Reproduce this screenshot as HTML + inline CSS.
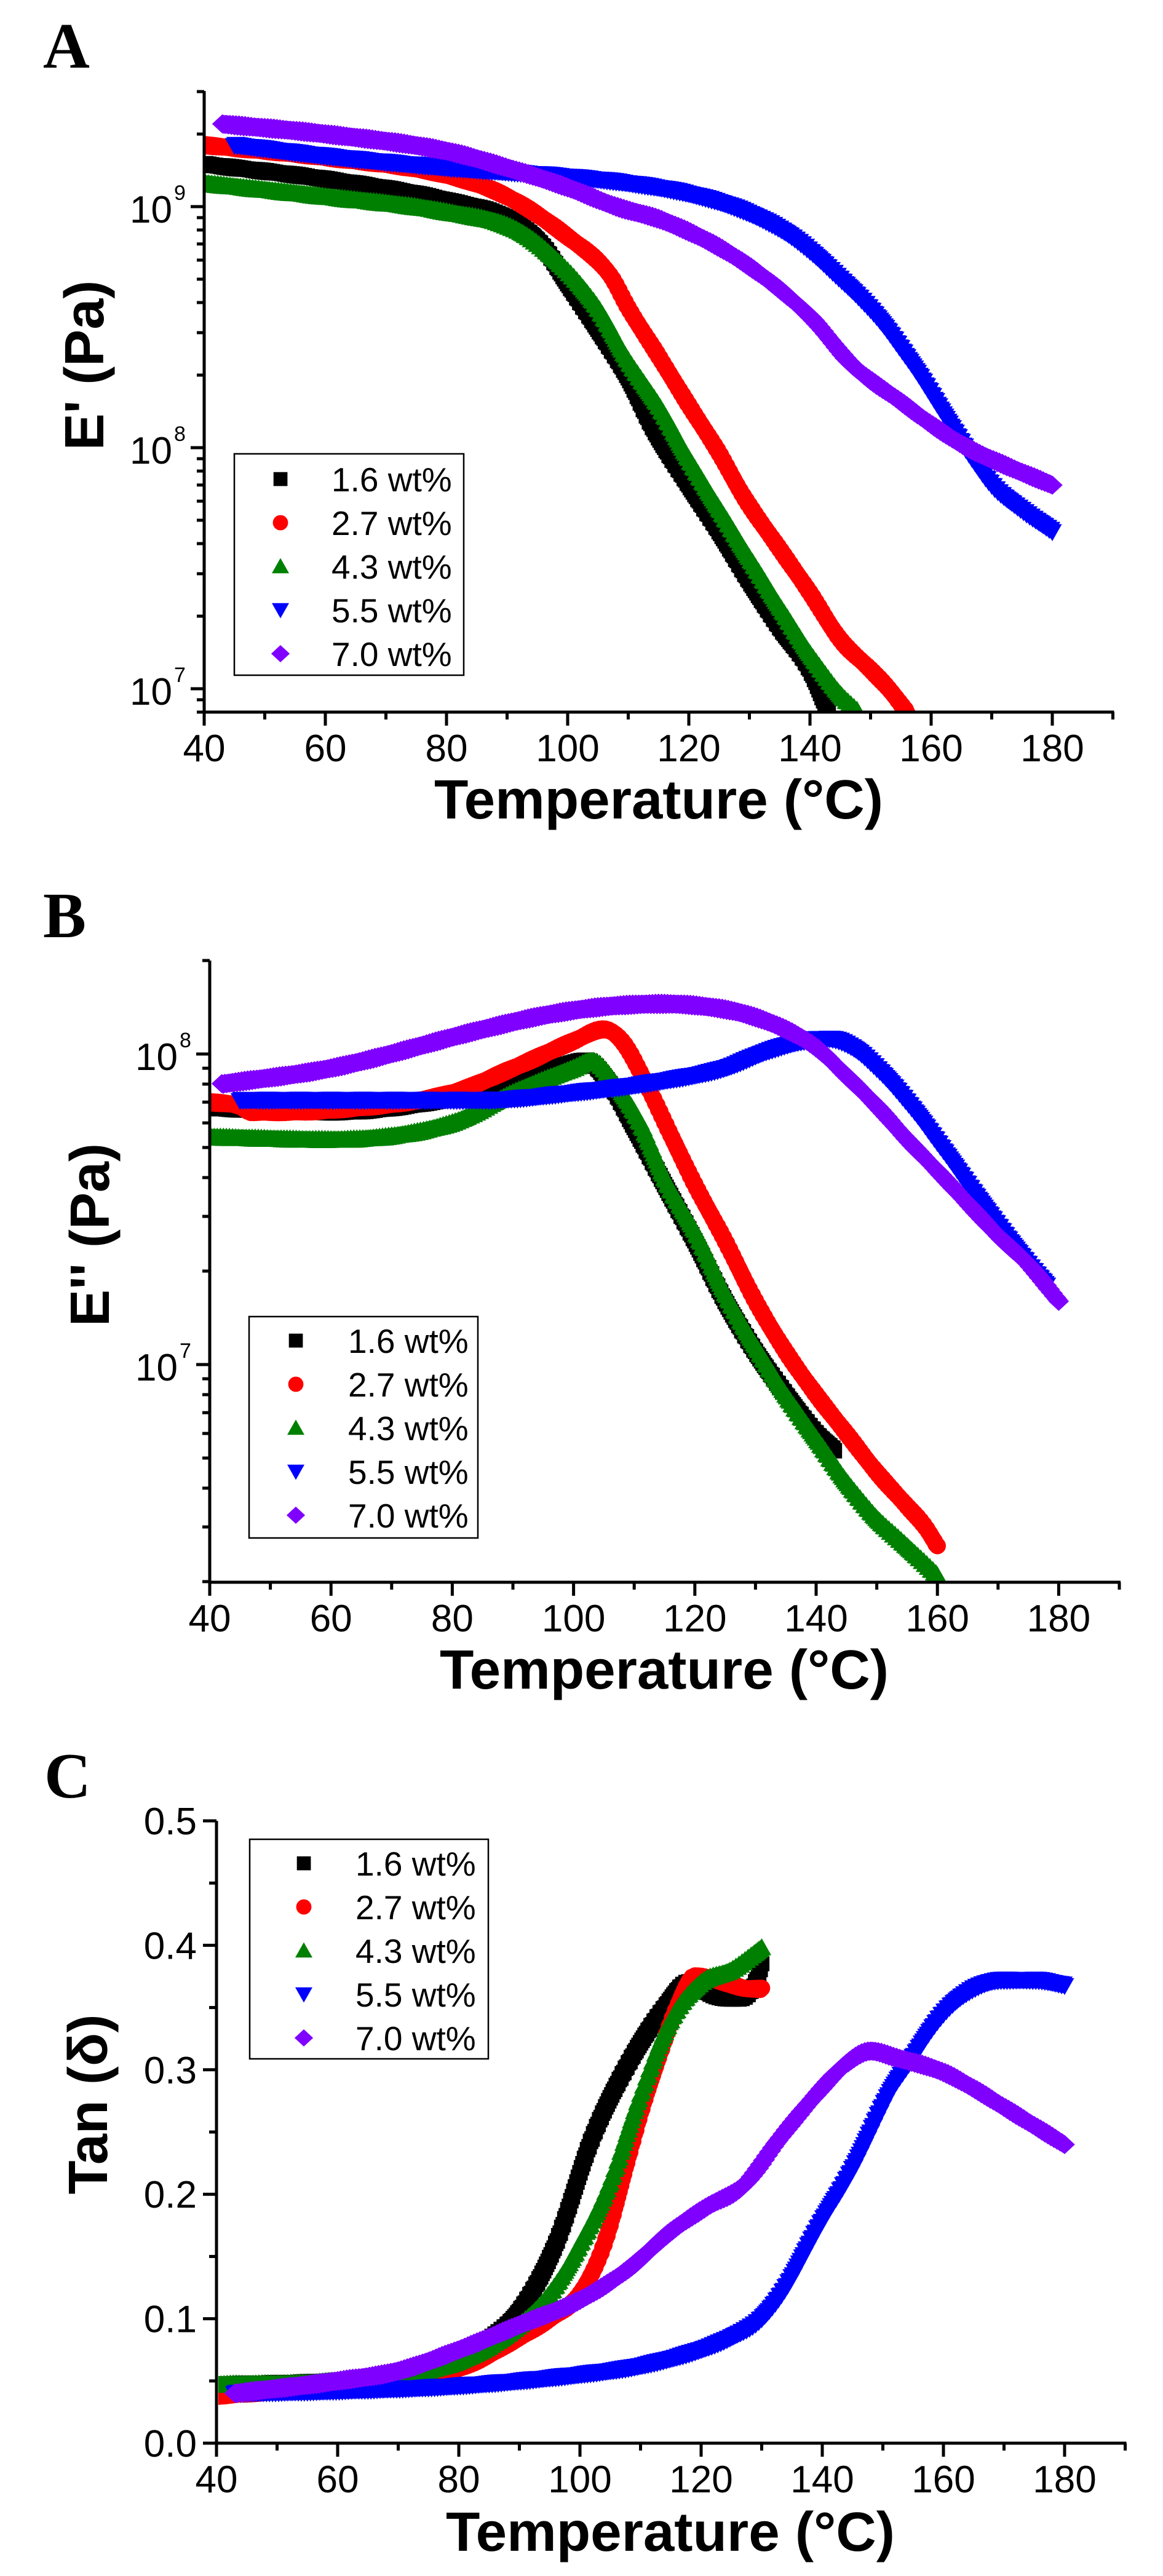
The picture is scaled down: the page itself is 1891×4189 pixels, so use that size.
<!DOCTYPE html>
<html><head><meta charset="utf-8"><style>
html,body{margin:0;padding:0;background:#fff;}
svg{display:block;}
text{font-family:"Liberation Sans",Arial,sans-serif;fill:#000;}
.tk{font-size:62px;}
.ttl{font-size:90px;font-weight:bold;}
.lg{font-size:55px;}
.let{font-family:"Liberation Serif",serif;font-size:105px;font-weight:bold;}
</style></head><body>
<svg id="s" xmlns="http://www.w3.org/2000/svg" width="1891" height="4189" viewBox="0 0 1891 4189">
<rect width="1891" height="4189" fill="#fff"/>
<defs>
<clipPath id="cA"><rect x="334" y="140" width="1480" height="1016"/></clipPath>
<clipPath id="cB"><rect x="343" y="1554" width="1480" height="1017"/></clipPath>
<clipPath id="cC"><rect x="355" y="2950" width="1480" height="1021"/></clipPath>
</defs>
<g id="data"></g>
<g id="axes"></g>
</svg>
<script>
var C=['#000000','#ff0000','#008000','#0000ff','#8000ff'];
function shape(k,x,y,s,c){
 if(k==0){var a=s*0.42;return '<rect x="'+(x-a).toFixed(1)+'" y="'+(y-a).toFixed(1)+'" width="'+(2*a).toFixed(1)+'" height="'+(2*a).toFixed(1)+'" fill="'+c+'"/>';}
 if(k==1)return '<circle cx="'+x.toFixed(1)+'" cy="'+y.toFixed(1)+'" r="'+(s*0.46).toFixed(1)+'" fill="'+c+'"/>';
 var p;
 if(k==2)p=[[x,y-s*0.5],[x-s*0.52,y+s*0.42],[x+s*0.52,y+s*0.42]];
 if(k==3)p=[[x,y+s*0.5],[x-s*0.52,y-s*0.42],[x+s*0.52,y-s*0.42]];
 if(k==4)p=[[x,y-s*0.52],[x+s*0.56,y],[x,y+s*0.52],[x-s*0.56,y]];
 return '<polygon points="'+p.map(function(q){return q[0].toFixed(1)+','+q[1].toFixed(1)}).join(' ')+'" fill="'+c+'"/>';
}
function slopes(d){
 var n=d.length,m=[];
 for(var i=0;i<n;i++){
  if(i==0)m.push((d[1][1]-d[0][1])/(d[1][0]-d[0][0]));
  else if(i==n-1)m.push((d[n-1][1]-d[n-2][1])/(d[n-1][0]-d[n-2][0]));
  else{var a=(d[i][1]-d[i-1][1])/(d[i][0]-d[i-1][0]),b=(d[i+1][1]-d[i][1])/(d[i+1][0]-d[i][0]);
   m.push(a*b<=0?0:(a+b)/2);}
 }
 return m;
}
function interp(d,m,T){
 for(var i=0;i<d.length-1;i++){if(T>=d[i][0]&&T<=d[i+1][0]){
  var h=d[i+1][0]-d[i][0],t=(T-d[i][0])/h,t2=t*t,t3=t2*t;
  return (2*t3-3*t2+1)*d[i][1]+(t3-2*t2+t)*h*m[i]+(-2*t3+3*t2)*d[i+1][1]+(t3-t2)*h*m[i+1];}}
 return d[d.length-1][1];
}
var out='';
function series(panel,clip,list,log){
 var g='<g clip-path="url(#'+clip+')">';
 list.forEach(function(d,k){
  var dd=d.map(function(p){return [p[0],log?Math.log10(p[1]):p[1]]});
  var m=slopes(dd);
  var t0=dd[0][0],t1=dd[dd.length-1][0];
  for(var T=t0;T<=t1+1e-6;T+=0.25){
   var v=interp(dd,m,Math.min(T,t1));
   var jit=Math.sin(T*37.1+k)*1.2;
   g+=shape(k,panel.x(T),panel.y(v)+jit,30,C[k]);
  }
 });
 return g+'</g>';
}
var A={x:function(T){return 332+(T-40)*9.85},y:function(l){return 336-392*(l-9)}};
var B={x:function(T){return 341+(T-40)*9.86},y:function(l){return 1714-505*(l-8)}};
var Cp={x:function(T){return 352+(T-40)*9.85},y:function(v){return 3973-v*2024}};

var dA=[
[[40,1.5e9],[60,1.3e9],[80,1.06e9],[91,8.7e8],[96,6.8e8],[100,4.8e8],[105,3.1e8],[110,1.95e8],[114,1.22e8],[120,7e7],[125,4.5e7],[130,2.8e7],[135,1.8e7],[140,1.2e7],[143,8e6]],
[[40,1.8e9],[60,1.6e9],[80,1.35e9],[90,1.1e9],[100,7.5e8],[107,5.2e8],[110,3.8e8],[115,2.4e8],[120,1.5e8],[125,9.5e7],[129,6.3e7],[135,3.8e7],[140,2.5e7],[145,1.6e7],[150,1.2e7],[153,1e7],[156,8e6]],
[[40,1.25e9],[60,1.1e9],[80,9.5e8],[92,7.9e8],[100,5.4e8],[105,3.8e8],[110,2.3e8],[115,1.5e8],[120,9e7],[125,5.6e7],[130,3.5e7],[135,2.2e7],[140,1.4e7],[145,9.5e6],[148,8e6]],
[[45,1.8e9],[60,1.62e9],[80,1.45e9],[100,1.33e9],[110,1.25e9],[120,1.13e9],[129,9.6e8],[137,7.5e8],[145,5e8],[151,3.5e8],[158,2e8],[164,1.15e8],[170,7e7],[175,5.5e7],[180,4.5e7]],
[[43,2.2e9],[60,2.0e9],[80,1.7e9],[90,1.45e9],[100,1.2e9],[108,1.0e9],[116,8.7e8],[128,6.1e8],[140,3.5e8],[147,2.2e8],[155,1.55e8],[160,1.25e8],[166,1e8],[172,8.5e7],[180,7e7]]
];
var dB=[
[[40,6.7e7],[60,6.5e7],[80,7.2e7],[90,8e7],[97,9e7],[102,9.5e7],[106,8e7],[110,5.8e7],[115,3.8e7],[120,2.5e7],[125,1.6e7],[130,1.1e7],[135,8e6],[140,6e6],[143,5.3e6]],
[[40,7e7],[45,6.8e7],[47,6.5e7],[60,6.6e7],[80,7.5e7],[90,9e7],[100,1.1e8],[105,1.2e8],[108,1.1e8],[112,8e7],[116,5.5e7],[120,3.8e7],[125,2.5e7],[130,1.6e7],[135,1.1e7],[140,8e6],[145,6e6],[150,4.5e6],[155,3.5e6],[158,3e6],[160,2.6e6]],
[[40,5.4e7],[60,5.3e7],[80,6e7],[90,7.5e7],[100,9e7],[103,9.5e7],[107,8e7],[111,6e7],[115,4e7],[120,2.7e7],[125,1.7e7],[130,1.15e7],[135,8e6],[140,5.8e6],[145,4.2e6],[150,3.2e6],[155,2.6e6],[160,2.1e6]],
[[45,7.1e7],[85,7.1e7],[100,7.5e7],[115,8.2e7],[125,9e7],[132,1.02e8],[138,1.1e8],[142,1.12e8],[146,1.05e8],[150,9e7],[155,7e7],[160,5.2e7],[165,3.8e7],[170,2.8e7],[175,2.1e7],[178,1.8e7]],
[[42,8e7],[60,9e7],[85,1.2e8],[95,1.33e8],[105,1.42e8],[115,1.45e8],[122,1.42e8],[128,1.35e8],[135,1.2e8],[140,1.05e8],[145,8.5e7],[150,6.8e7],[155,5.3e7],[160,4.2e7],[165,3.3e7],[170,2.6e7],[175,2.1e7],[180,1.6e7]]
];
var dC=[
[[40,0.047],[60,0.05],[70,0.055],[78,0.062],[84,0.08],[90,0.106],[96,0.16],[102,0.245],[108,0.305],[114,0.35],[118,0.37],[122,0.36],[126,0.357],[129,0.37],[130,0.385]],
[[40,0.038],[60,0.046],[80,0.06],[90,0.085],[95,0.1],[100,0.12],[104,0.16],[108,0.23],[110,0.265],[113,0.31],[116,0.35],[119,0.375],[124,0.37],[128,0.365],[130,0.365]],
[[40,0.047],[60,0.05],[80,0.066],[90,0.095],[95,0.12],[100,0.16],[105,0.21],[110,0.28],[115,0.34],[120,0.37],[125,0.38],[130,0.398]],
[[43,0.04],[60,0.042],[80,0.046],[100,0.055],[110,0.062],[120,0.075],[125,0.085],[130,0.1],[134,0.125],[139,0.17],[145,0.22],[151,0.28],[155,0.31],[160,0.345],[165,0.365],[170,0.372],[175,0.372],[180,0.368]],
[[43,0.04],[60,0.05],[70,0.058],[80,0.075],[90,0.095],[100,0.115],[108,0.14],[115,0.17],[121,0.19],[127,0.207],[133,0.245],[139,0.28],[144,0.305],[148,0.315],[152,0.31],[160,0.298],[165,0.285],[170,0.27],[175,0.255],[180,0.24]]
];
out+=series(A,'cA',dA,true);
out+=series(B,'cB',dB,true);
out+=series(Cp,'cC',dC,false);
document.getElementById('data').innerHTML=out;

var ax='';
function line(x1,y1,x2,y2,w){return '<line x1="'+x1+'" y1="'+y1+'" x2="'+x2+'" y2="'+y2+'" stroke="#000" stroke-width="'+w+'"/>';}
function xaxis(P,top,bot){
 var x0=P.x(40),x1=P.x(190);
 ax+=line(x0,top,x0,bot+2.5,5)+line(x0-2.5,bot,x1+2,bot,5);
 for(var T=40;T<=190;T+=10){var x=P.x(T);var maj=(T%20==0);ax+=line(x,bot,x,bot+(maj?22:12),5);
  if(maj&&T<=180)ax+='<text class="tk" x="'+x+'" y="'+(bot+80)+'" text-anchor="middle">'+T+'</text>';}
}
function logy(P,x0,lo,hi){
 for(var d=5;d<=9;d++)for(var m=1;m<=9;m++){var v=m*Math.pow(10,d);if(v<lo*0.999||v>hi*1.001)continue;var y=P.y(Math.log10(v));
  ax+=line(x0-(m==1?22:12),y,x0,y,5);
  if(m==1){ax+='<text class="tk" x="'+(x0-52)+'" y="'+(y+26)+'" text-anchor="end">10</text><text x="'+(x0-49)+'" y="'+(y-11)+'" style="font-size:34px">'+d+'</text>';}}
}
xaxis(A,148,1158);logy(A,332,8e6,3e9);
xaxis(B,1562,2573);logy(B,341,2e6,2e8);
xaxis(Cp,2961,3973);
for(var i=0;i<=10;i++){var v=i*0.05;var y=Cp.y(v);var maj=(i%2==0);ax+=line(352-(maj?22:12),y,352,y,5);
 if(maj)ax+='<text class="tk" x="320" y="'+(y+22)+'" text-anchor="end">'+(v.toFixed(1))+'</text>';}
function xt(cx,y){ax+='<text class="ttl" x="'+cx+'" y="'+y+'" text-anchor="middle" textLength="730" lengthAdjust="spacingAndGlyphs">Temperature (°C)</text>';}
xt(1071,1331);xt(1080,2746);xt(1090,4148);
ax+='<text class="ttl" transform="translate(168,594) rotate(-90)" text-anchor="middle">E\' (Pa)</text>';
ax+='<text class="ttl" transform="translate(177,2008) rotate(-90)" text-anchor="middle">E\'\' (Pa)</text>';
ax+='<text class="ttl" transform="translate(174,3422) rotate(-90)" text-anchor="middle">Tan (δ)</text>';
ax+='<text class="let" x="70" y="110">A</text><text class="let" x="70" y="1524">B</text><text class="let" x="72" y="2923">C</text>';
var labs=['1.6 wt%','2.7 wt%','4.3 wt%','5.5 wt%','7.0 wt%'];
function legend(x0,y0,x1,y1,mx,tx,b0){
 ax+='<rect x="'+x0+'" y="'+y0+'" width="'+(x1-x0)+'" height="'+(y1-y0)+'" fill="#fff" stroke="#000" stroke-width="2.5"/>';
 for(var k=0;k<5;k++){var b=b0+k*71;ax+=shape(k,mx,b-20,27,C[k]);ax+='<text class="lg" x="'+tx+'" y="'+b+'">'+labs[k]+'</text>';}
}
legend(381,738,754,1098,456,539,799);
legend(405,2141,777,2501,481,566,2200);
legend(406,2991,794,3348,494,578,3050);
document.getElementById('axes').innerHTML=ax;
</script>
</body></html>
